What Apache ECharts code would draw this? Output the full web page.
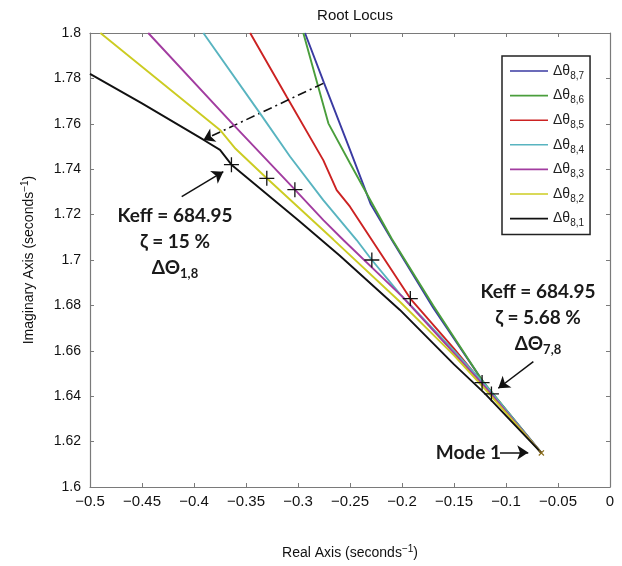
<!DOCTYPE html>
<html>
<head>
<meta charset="utf-8">
<script src="https://cdn.jsdelivr.net/npm/echarts@6/dist/echarts.min.js"></script>
<style>
  html, body { margin: 0; padding: 0; background: #fff; }
  #chart { width: 622px; height: 566px; }
</style>
</head>
<body>
<div id="chart"></div>
<script>
// Axis ticks (real and imaginary parts, seconds^-1)
const xTicks = [-0.5, -0.45, -0.4, -0.35, -0.3, -0.25, -0.2, -0.15, -0.1, -0.05, 0];
const yTicks = [1.6, 1.62, 1.64, 1.66, 1.68, 1.7, 1.72, 1.74, 1.76, 1.78, 1.8];

// Root-locus branches of mode 1 for each parameter variation, [real, imag]
const locus87 = [[-0.2933, 1.8], [-0.275, 1.778], [-0.25, 1.7485], [-0.23, 1.7245], [-0.21, 1.709], [-0.17, 1.679], [-0.12, 1.645], [-0.066, 1.615]];
const locus86 = [[-0.2949, 1.8], [-0.2708, 1.7602], [-0.25, 1.7426], [-0.23, 1.726], [-0.21, 1.7095], [-0.17, 1.68], [-0.123, 1.647], [-0.066, 1.615]];
const locus85 = [[-0.346, 1.8], [-0.311, 1.772], [-0.2757, 1.744], [-0.2628, 1.7308], [-0.25, 1.7235], [-0.229, 1.7088], [-0.192, 1.683], [-0.15, 1.661], [-0.123, 1.646], [-0.066, 1.615]];
const locus84 = [[-0.391, 1.8], [-0.3365, 1.7646], [-0.3077, 1.7456], [-0.2757, 1.7264], [-0.2436, 1.7088], [-0.229, 1.7], [-0.2019, 1.685], [-0.15, 1.66], [-0.12, 1.645], [-0.066, 1.615]];
const locus83 = [[-0.444, 1.8], [-0.362, 1.7595], [-0.303, 1.731], [-0.2756, 1.7176], [-0.2564, 1.7088], [-0.2, 1.684], [-0.15, 1.659], [-0.12, 1.644], [-0.066, 1.615]];
const locus82 = [[-0.49, 1.8], [-0.375, 1.7573], [-0.36, 1.749], [-0.33, 1.736], [-0.266, 1.709], [-0.202, 1.6816], [-0.15, 1.658], [-0.12, 1.643], [-0.066, 1.615]];
const locus81 = [[-0.5, 1.782], [-0.45, 1.769], [-0.391, 1.753], [-0.375, 1.7485], [-0.364, 1.742], [-0.3, 1.7176], [-0.26, 1.702], [-0.202, 1.678], [-0.15, 1.654], [-0.12, 1.641], [-0.066, 1.615]];

const branchNames = ['8,7', '8,6', '8,5', '8,4', '8,3', '8,2', '8,1'];
const branchColors = ['#3a3aa2', '#4a9e3c', '#cc2222', '#58b4c0', '#a23ca0', '#cccc22', '#111111'];
const branches = [locus87, locus86, locus85, locus84, locus83, locus82, locus81];

// Pole positions at Keff = 684.95 on each branch
const gainPoints = [[-0.114, 1.641], [-0.123, 1.646], [-0.192, 1.683], [-0.229, 1.7], [-0.303, 1.731], [-0.33, 1.736], [-0.364, 1.742]];

// Open-loop pole of mode 1
const mode1 = [-0.066, 1.615];

const fmt = v => String(+(+v).toFixed(2)).replace('-', '\u2212');

const annFont = 'Lato, "Open Sans", sans-serif';
const annRich = {
  b: { fontFamily: annFont, fontWeight: 'bold', fontSize: 19, color: '#1a1a1a', lineHeight: 26 },
  s: { fontFamily: annFont, fontWeight: 'bold', fontSize: 13, color: '#1a1a1a', lineHeight: 14, padding: [12, 0, 0, 0] }
};

const series = branches.map((d, i) => ({
  name: branchNames[i],
  type: 'line',
  data: d,
  symbol: 'none',
  showSymbol: false,
  lineStyle: { color: branchColors[i], width: 1.9 },
  itemStyle: { color: branchColors[i] },
  emphasis: { disabled: true },
  z: 2 + i
}));

const plusPath = 'path://M0,6.4h14v1.2h-14z M6.4,0h1.2v14h-1.2z';
const crossPath = 'path://M0,1L1,0L7,6L6,7Z M6,0L7,1L1,7L0,6Z';

series.push({
  type: 'scatter',
  data: gainPoints,
  symbol: plusPath,
  symbolSize: 15,
  itemStyle: { color: '#111', opacity: 1 },
  emphasis: { disabled: true },
  silent: true,
  z: 20
});

series.push({
  type: 'scatter',
  data: [mode1],
  symbol: crossPath,
  symbolSize: 6,
  itemStyle: { color: '#8a6d1c', opacity: 1 },
  emphasis: { disabled: true },
  silent: true,
  z: 21
});

// Text annotations
series.push({
  type: 'scatter',
  symbolSize: 0,
  silent: true,
  z: 30,
  itemStyle: { opacity: 1 },
  data: [
    { value: [-0.4183, 1.7081], label: { formatter: '{b|Keff = 684.95}\n{b|\u03b6 = 15 %}\n{b|\u0394\u0398}{s|1,8}' } },
    { value: [-0.0692, 1.6746], label: { formatter: '{b|Keff = 684.95}\n{b|\u03b6 = 5.68 %}\n{b|\u0394\u0398}{s|7,8}' } },
    { value: [-0.1362, 1.6152], label: { formatter: '{b|Mode 1}' } }
  ],
  label: {
    show: true,
    position: 'inside',
    align: 'center',
    verticalAlign: 'middle',
    opacity: 1,
    rich: annRich
  }
});

// Arrows
series.push({
  type: 'line',
  data: [],
  silent: true,
  z: 25,
  markLine: {
    silent: true,
    animation: false,
    symbol: ['none', 'arrow'],
    symbolSize: 11,
    label: { show: false },
    lineStyle: { color: '#111', width: 1.5, type: 'solid', opacity: 1 },
    emphasis: { disabled: true },
    data: [
      [{ coord: [-0.4118, 1.7279] }, { coord: [-0.3718, 1.7389] }],
      [{ coord: [-0.0737, 1.6552] }, { coord: [-0.1074, 1.6435] }],
      [{ coord: [-0.1058, 1.6152] }, { coord: [-0.0786, 1.6152] }],
      [{ coord: [-0.2757, 1.7778] }, { coord: [-0.391, 1.7529],
        lineStyle: { type: [9, 4, 2, 4], width: 1.6 } }]
    ]
  }
});

const axisFont = '"Liberation Sans", Arial, sans-serif';
const axisGray = '#7a7a7a';

const baseX = {
  type: 'value',
  min: xTicks[0],
  max: xTicks[xTicks.length - 1],
  interval: 0.05,
  axisLine: { show: true, onZero: false, lineStyle: { color: axisGray, width: 1.2 } },
  axisTick: { show: true, inside: true, length: 4, lineStyle: { color: axisGray } },
  splitLine: { show: false }
};
const baseY = {
  type: 'value',
  min: yTicks[0],
  max: yTicks[yTicks.length - 1],
  interval: 0.02,
  axisLine: { show: true, onZero: false, lineStyle: { color: axisGray, width: 1.2 } },
  axisTick: { show: true, inside: true, length: 4, lineStyle: { color: axisGray } },
  splitLine: { show: false }
};

const option = {
  animation: false,
  backgroundColor: '#ffffff',
  title: {
    text: 'Root Locus',
    left: 350,
    top: 3,
    textAlign: 'center',
    textStyle: { fontFamily: axisFont, fontSize: 15, fontWeight: 'normal', color: '#111' }
  },
  grid: { left: 90, right: 12, top: 33, bottom: 79, containLabel: false, outerBoundsMode: 'none' },
  legend: {
    orient: 'vertical',
    left: 502,
    top: 56,
    padding: [5, 6, 6, 8],
    itemGap: 4.6,
    itemWidth: 38,
    itemHeight: 1.6,
    icon: 'rect',
    borderColor: '#222',
    borderWidth: 1.5,
    backgroundColor: '#fff',
    data: branchNames,
    formatter: n => '{d|\u0394\u03b8}{s|' + n + '}',
    textStyle: {
      rich: {
        d: { fontFamily: axisFont, fontSize: 14, color: '#222', lineHeight: 20 },
        s: { fontFamily: axisFont, fontSize: 10, color: '#222', lineHeight: 10, padding: [10, 0, 0, 0] }
      }
    }
  },
  xAxis: [
    Object.assign({}, baseX, {
      position: 'bottom',
      axisLabel: { show: true, margin: 7, formatter: fmt, fontFamily: axisFont, fontSize: 15, color: '#111' },
      name: '{n|Real Axis (seconds}{p|\u22121}{n|)}',
      nameLocation: 'middle',
      nameGap: 57,
      nameTextStyle: {
        rich: {
          n: { fontFamily: axisFont, fontSize: 14, color: '#111', lineHeight: 18 },
          p: { fontFamily: axisFont, fontSize: 10, color: '#111', lineHeight: 10, padding: [0, 0, 8, 0] }
        }
      }
    }),
    Object.assign({}, baseX, { position: 'top', axisLabel: { show: false } })
  ],
  yAxis: [
    Object.assign({}, baseY, {
      position: 'left',
      axisLabel: { show: true, margin: 9, formatter: fmt, fontFamily: axisFont, fontSize: 14, color: '#111' },
      name: '{n|Imaginary Axis (seconds}{p|\u22121}{n|)}',
      nameLocation: 'middle',
      nameGap: 52,
      nameRotate: 90,
      nameTextStyle: {
        rich: {
          n: { fontFamily: axisFont, fontSize: 14, color: '#111', lineHeight: 18 },
          p: { fontFamily: axisFont, fontSize: 10, color: '#111', lineHeight: 10, padding: [0, 0, 8, 0] }
        }
      }
    }),
    Object.assign({}, baseY, { position: 'right', axisLabel: { show: false } })
  ],
  series: series
};

const chart = echarts.init(document.getElementById('chart'), null, { renderer: 'canvas' });
chart.setOption(option);
</script>
</body>
</html>
